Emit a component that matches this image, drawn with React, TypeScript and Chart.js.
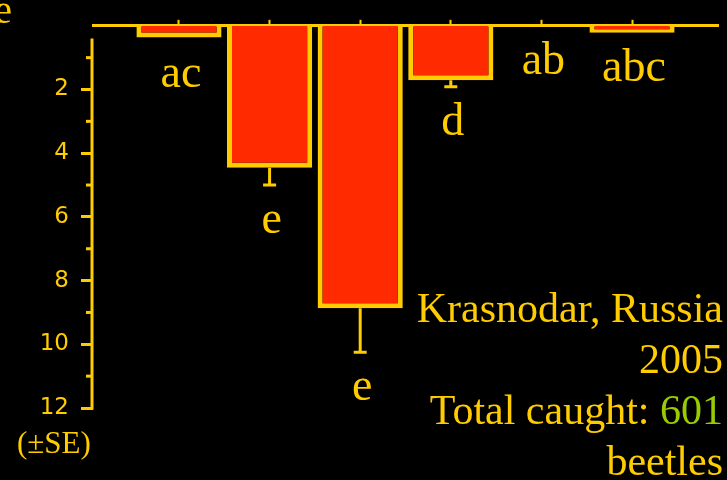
import React, { useEffect, useRef } from "react";
import Chart from "chart.js/auto";

const categories = ["1", "2", "3", "4", "5", "6"];
const meanCatch = [0.37, 4.46, 8.87, 1.71, 0, 0.22];
const stdErr = [0.04, 0.54, 1.38, 0.2, 0, 0];
const sigLetters = ["ac", "e", "e", "d", "ab", "abc"];
const yMajorTicks = [2, 4, 6, 8, 10, 12];
const yMinorTicks = [1, 3, 5, 7, 9, 11];
const noteLines = ["Krasnodar, Russia", "2005", "Total caught: ", "beetles"];
const totalCaught = "601";

const GOLD = "#FFCC00";
const RED = "#FF2A00";
const GREEN = "#99CC00";

const overlayPlugin = {
  id: "overlay",
  beforeDatasetsDraw(chart: any) {
    const ctx = chart.ctx;
    const ys = chart.scales.y;
    const left = chart.chartArea.left;
    ctx.save();
    ctx.strokeStyle = GOLD;
    ctx.lineWidth = 3;
    ctx.beginPath();
    ctx.moveTo(left - 1, ys.getPixelForValue(0.4));
    ctx.lineTo(left - 1, ys.getPixelForValue(12) + 1.5);
    ctx.stroke();
    yMinorTicks.forEach((v) => {
      const py = ys.getPixelForValue(v);
      ctx.beginPath();
      ctx.moveTo(left - 7, py);
      ctx.lineTo(left, py);
      ctx.stroke();
    });
    ctx.restore();
  },
  afterDatasetsDraw(chart: any) {
    const ctx = chart.ctx;
    const ys = chart.scales.y;
    const meta = chart.getDatasetMeta(0);
    ctx.save();
    ctx.strokeStyle = GOLD;
    ctx.fillStyle = GOLD;
    ctx.lineWidth = 3;
    meta.data.forEach((el: any, i: number) => {
      const top = ys.getPixelForValue(meanCatch[i]);
      const end = ys.getPixelForValue(meanCatch[i] + stdErr[i]);
      if (stdErr[i] > 0.1) {
        ctx.beginPath();
        ctx.moveTo(el.x, top);
        ctx.lineTo(el.x, end);
        ctx.moveTo(el.x - 6.5, end);
        ctx.lineTo(el.x + 6.5, end);
        ctx.stroke();
      }
      ctx.font = '46px "Liberation Serif"';
      ctx.textAlign = "center";
      ctx.textBaseline = "alphabetic";
      ctx.fillText(sigLetters[i], el.x + 2, end + 48);
    });
    ctx.restore();
  },
};

export default function App() {
  const ref = useRef<HTMLCanvasElement>(null);
  useEffect(() => {
    if (!ref.current) return;
    const chart = new Chart(ref.current, {
      type: "bar",
      data: {
        labels: categories,
        datasets: [
          {
            data: meanCatch.map((v, i) => ({ x: i, y: v })) as any,
            backgroundColor: RED,
            borderColor: GOLD,
            borderWidth: 5,
            borderSkipped: "start",
            barPercentage: 0.94,
            categoryPercentage: 1,
          },
        ],
      },
      options: {
        responsive: false,
        animation: false,
        devicePixelRatio: 1,
        layout: { padding: { left: 0, right: 9, top: 0, bottom: 72 } },
        plugins: { legend: { display: false }, tooltip: { enabled: false } },
        scales: {
          x: {
            type: "linear",
            position: "top",
            min: -0.949,
            max: 5.949,
            offset: false,
            z: 1,
            afterBuildTicks: (axis: any) => {
              axis.ticks = categories.map((_, i) => ({ value: i }));
            },
            afterFit: (s: any) => {
              s.height = 24;
            },
            ticks: { display: false },
            grid: {
              offset: false,
              drawOnChartArea: false,
              drawTicks: true,
              tickLength: 6,
              tickWidth: 2,
              tickColor: GOLD,
            },
            border: { display: true, color: GOLD, width: 3 },
          },
          y: {
            type: "linear",
            reverse: true,
            min: 0,
            max: 12,
            afterBuildTicks: (axis: any) => {
              axis.ticks = yMajorTicks.map((v) => ({ value: v }));
            },
            afterFit: (s: any) => {
              s.width = 93;
            },
            ticks: {
              color: GOLD,
              padding: 12,
              font: { family: "DejaVu Sans", size: 23 },
            },
            grid: {
              drawOnChartArea: false,
              drawTicks: true,
              tickLength: 12,
              tickWidth: 3,
              tickColor: GOLD,
            },
            border: { display: false },
          },
        },
      },
      plugins: [overlayPlugin],
    } as any);
    return () => chart.destroy();
  }, []);

  const serif = '"Liberation Serif", "Times New Roman", serif';
  return (
    <div
      style={{
        position: "absolute",
        left: 0,
        top: 0,
        width: 727,
        height: 480,
        background: "#000",
        overflow: "hidden",
      }}
    >
      <canvas ref={ref} width={727} height={480} style={{ display: "block" }} />
      <div
        style={{
          position: "absolute",
          right: 715,
          top: -10.5,
          fontFamily: serif,
          fontSize: 40,
          lineHeight: "40px",
          color: GOLD,
          whiteSpace: "nowrap",
        }}
      >
        e
      </div>
      <div
        style={{
          position: "absolute",
          left: 17,
          top: 428,
          fontFamily: serif,
          fontSize: 31,
          lineHeight: "30px",
          color: GOLD,
          whiteSpace: "nowrap",
        }}
      >
        (±SE)
      </div>
      <div
        style={{
          position: "absolute",
          right: 4,
          top: 283,
          fontFamily: serif,
          fontSize: 42,
          lineHeight: "51px",
          color: GOLD,
          textAlign: "right",
          whiteSpace: "nowrap",
        }}
      >
        <div>{noteLines[0]}</div>
        <div>{noteLines[1]}</div>
        <div>
          {noteLines[2]}
          <span style={{ color: GREEN }}>{totalCaught}</span>
        </div>
        <div>{noteLines[3]}</div>
      </div>
    </div>
  );
}
